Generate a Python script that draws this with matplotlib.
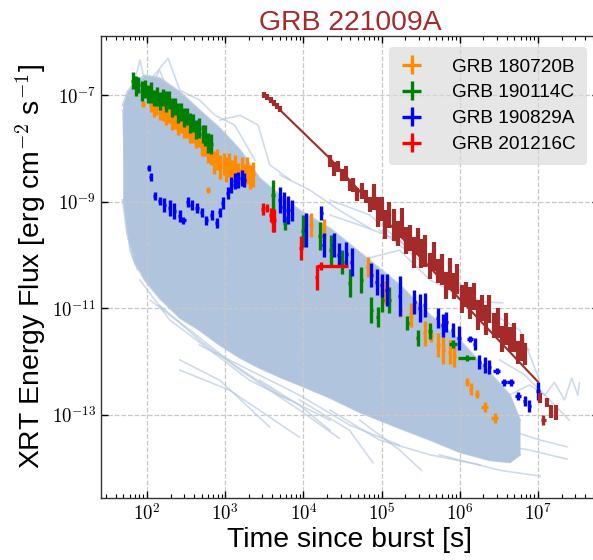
import numpy as np
import matplotlib.pyplot as plt
from matplotlib.ticker import FixedLocator, NullLocator, NullFormatter, FuncFormatter

plt.rcParams['font.family'] = ['Liberation Sans', 'DejaVu Sans']
plt.rcParams['mathtext.fontset'] = 'cm'

# ---- data (log10 of time [s] and flux [erg cm^-2 s^-1]) ----

# envelope of the dense Swift-XRT sample
env_logt = [1.69, 1.75, 1.84, 1.97, 2.16, 2.42, 2.67, 2.93, 3.19, 3.44, 3.70, 3.95,
            4.34, 4.72, 5.23, 5.62, 6.00, 6.38, 6.64, 6.77]
env_hi = [-7.19, -6.94, -6.76, -6.63, -6.68, -6.94, -7.28, -7.62, -8.03, -8.56, -8.88, -9.16,
          -9.50, -9.95, -10.56, -11.13, -11.60, -12.20, -12.63, -13.10]
env_lo = [-8.97, -9.63, -10.13, -10.47, -10.81, -11.18, -11.41, -11.69, -11.93, -12.12, -12.29, -12.44,
          -12.68, -12.95, -13.25, -13.47, -13.70, -13.85, -13.89, -13.75]

# individual light curves sticking out of the band
bg_lines = [
    ([1.78, 1.91, 2.01, 2.16, 2.35, 2.67], [-7.09, -6.34, -7.00, -6.53, -7.19, -7.47]),
    ([2.04, 2.27, 2.42, 2.67, 2.87, 3.12, 3.38], [-6.72, -6.31, -6.91, -7.09, -7.38, -7.56, -8.22]),
    ([2.93, 3.19, 3.42, 3.57, 3.83], [-7.47, -7.38, -7.56, -8.31, -8.59]),
    ([4.34, 4.72, 5.23, 5.62, 6.00, 6.55], [-9.25, -9.44, -9.72, -10.19, -10.85, -10.90]),
    ([4.72, 5.23, 5.62, 6.13, 6.77, 7.02], [-10.10, -9.91, -10.47, -10.85, -11.41, -12.35]),
    ([6.51, 6.89, 7.09, 7.21, 7.34, 7.43, 7.51, 7.53], [-12.72, -12.44, -12.63, -12.39, -12.72, -12.31, -12.63, -12.40]),
    ([6.26, 6.64, 7.02, 7.37], [-13.10, -13.29, -13.47, -13.60]),
    ([2.16, 2.67, 3.19, 3.57, 3.95, 4.46], [-10.94, -11.60, -12.16, -12.54, -12.91, -13.44]),
    ([2.42, 2.93, 3.57], [-11.97, -12.35, -13.23]),
    ([2.42, 3.06, 3.95], [-12.16, -12.54, -13.42]),
    ([3.95, 4.59, 4.89], [-12.72, -13.29, -13.90]),
    ([4.72, 5.23, 5.51], [-13.10, -13.66, -14.04]),
    ([5.74, 6.51, 7.03], [-13.75, -14.04, -14.15]),
    ([6.13, 6.89, 7.37], [-13.47, -13.66, -13.83]),
    ([1.69, 1.72, 1.78, 1.88], [-7.28, -8.59, -9.91, -10.28]),
    ([1.91, 2.29, 2.80, 3.31, 3.82], [-10.47, -11.22, -11.78, -12.35, -12.72]),
    ([2.04, 2.55, 3.12, 3.70, 4.34], [-10.85, -11.41, -12.07, -12.63, -13.10]),
    ([2.67, 3.31, 3.95, 4.59, 5.23], [-11.69, -12.16, -12.63, -13.19, -13.57]),
    ([4.34, 4.97, 5.62, 6.26], [-12.91, -13.47, -13.75, -13.94]),
    ([3.44, 3.95, 4.34], [-12.35, -12.82, -13.29]),
    ([4.34, 4.85, 5.36, 5.87, 6.38], [-8.97, -9.25, -9.91, -10.38, -11.03]),
    ([4.97, 5.49, 6.00, 6.51, 6.89], [-9.53, -10.10, -10.66, -11.41, -11.78]),
    ([3.70, 4.08, 4.46, 4.85], [-8.50, -8.78, -9.16, -9.50]),
    ([6.51, 6.83, 7.15, 7.40], [-11.97, -12.25, -12.72, -13.10]),
]

# GRB 180720B
orange_logt = [1.95, 1.98, 2.05, 2.09, 2.12, 2.16, 2.20, 2.24, 2.28, 2.32, 2.36, 2.40, 2.43, 2.47,
               2.51, 2.55, 2.59, 2.63, 2.67, 2.70, 2.74, 2.78, 2.78, 2.82, 2.86, 2.90, 2.94, 2.98,
               3.01, 3.05, 3.09, 3.13, 3.17, 3.21, 3.24, 3.28, 3.32, 3.36,
               4.10, 4.27, 4.82, 5.04, 5.24, 5.37, 5.55, 5.63, 5.72, 5.79, 5.87, 5.93, 6.09, 6.14, 6.22]
orange_logf = [-7.17, -6.91, -7.18, -7.27, -7.24, -7.34, -7.34, -7.43, -7.40, -7.51, -7.49, -7.59, -7.58, -7.68,
               -7.66, -7.75, -7.73, -7.86, -7.83, -7.98, -7.97, -8.12, -8.78, -8.12, -8.26, -8.21, -8.35, -8.29,
               -8.40, -8.31, -8.42, -8.36, -8.49, -8.40, -8.51, -8.41, -8.54, -8.49,
               -9.44, -9.63, -10.23, -10.70, -11.03, -11.13, -11.47, -11.52, -11.69, -11.78, -11.82, -11.90, -12.38, -12.52, -12.61]
orange_logerr = [0.06, 0.09, 0.13, 0.15, 0.14, 0.12, 0.15, 0.14, 0.13, 0.15, 0.14, 0.16, 0.14, 0.13,
                 0.15, 0.14, 0.16, 0.14, 0.15, 0.16, 0.17, 0.16, 0.06, 0.20, 0.22, 0.19, 0.23, 0.21,
                 0.24, 0.22, 0.20, 0.24, 0.22, 0.23, 0.21, 0.25, 0.22, 0.24,
                 0.22, 0.30, 0.19, 0.22, 0.13, 0.22, 0.24, 0.12, 0.22, 0.26, 0.22, 0.20, 0.08, 0.11, 0.08]
orange_x_logt = [6.32, 6.45]
orange_x_logf = [-12.85, -13.06]
orange_x_logerr = [0.10, 0.10]

# GRB 190114C
green_logt = [1.82, 1.86, 1.89, 1.93, 1.97, 2.01, 2.05, 2.09, 2.13, 2.17, 2.20, 2.24, 2.28, 2.32,
              2.36, 2.40, 2.44, 2.47, 2.51, 2.55, 2.59, 2.63, 2.67, 2.71, 2.74, 2.78, 2.82,
              3.61, 3.76, 3.99, 4.21, 4.35, 4.50, 4.59, 4.74, 4.87, 4.95, 5.01, 5.10, 5.33, 5.46, 5.62]
green_logf = [-6.73, -6.83, -6.81, -6.92, -6.88, -6.98, -6.95, -7.06, -7.03, -7.11, -7.04, -7.12, -7.10, -7.23,
              -7.21, -7.33, -7.32, -7.42, -7.40, -7.53, -7.52, -7.65, -7.62, -7.73, -7.76, -7.90, -7.92,
              -8.88, -9.40, -9.55, -9.65, -9.91, -10.13, -10.53, -10.47, -11.03, -11.17, -10.85, -10.85,
              -11.28, -11.56, -11.43]
green_logerr = [0.16, 0.18, 0.15, 0.19, 0.17, 0.16, 0.19, 0.15, 0.18, 0.17, 0.16, 0.19, 0.17, 0.18,
                0.16, 0.19, 0.17, 0.18, 0.16, 0.19, 0.17, 0.18, 0.19, 0.17, 0.20, 0.18, 0.19,
                0.28, 0.13, 0.30, 0.26, 0.28, 0.22, 0.26, 0.24, 0.24, 0.19, 0.22, 0.24, 0.13, 0.15, 0.15]
green_x_logt = [5.91, 6.09]
green_x_logf = [-11.67, -11.93]
green_x_logerr = [0.08, 0.06]
green_x_logxerr = [0.05, 0.11]

# GRB 190829A
blue_logt = [2.02, 2.05, 2.10, 2.16, 2.22, 2.29, 2.35, 2.42, 2.52, 2.57, 2.64, 2.70, 2.76, 2.83,
             2.89, 2.93, 2.97, 3.03, 3.08, 3.12, 3.16, 3.21, 3.24,
             3.70, 3.75, 3.80, 3.85, 4.03, 4.23, 4.26, 4.39, 4.45, 4.55, 4.62, 4.87, 4.94, 5.00,
             5.07, 5.23, 5.42, 5.49, 5.55, 5.72, 5.78, 5.83, 5.91, 5.99, 6.19, 6.25, 6.32, 6.38,
             6.83, 6.89, 7.00]
blue_logf = [-8.37, -8.54, -8.89, -8.99, -9.06, -9.12, -9.18, -9.27, -9.01, -9.06, -9.12, -9.20, -9.35, -9.25,
             -9.40, -9.20, -9.03, -8.84, -8.69, -8.61, -8.59, -8.56, -8.59,
             -8.97, -9.10, -9.16, -9.16, -9.53, -9.21, -9.81, -9.81, -10.00, -9.98, -10.13, -10.38, -10.51, -10.57,
             -10.66, -10.77, -10.88, -11.00, -10.94, -11.18, -11.32, -11.26, -11.41, -11.56, -11.67, -12.01, -12.07, -12.10,
             -12.74, -12.84, -12.55]
blue_logerr = [0.06, 0.08, 0.08, 0.08, 0.13, 0.15, 0.15, 0.11, 0.09, 0.09, 0.09, 0.09, 0.09, 0.09,
               0.09, 0.09, 0.11, 0.11, 0.15, 0.15, 0.15, 0.15, 0.13,
               0.25, 0.28, 0.26, 0.20, 0.32, 0.13, 0.22, 0.22, 0.22, 0.22, 0.26, 0.22, 0.24, 0.22,
               0.30, 0.37, 0.22, 0.26, 0.22, 0.19, 0.22, 0.19, 0.13, 0.22, 0.12, 0.13, 0.15, 0.13,
               0.09, 0.11, 0.17]
blue_x_logt = [2.46, 6.13, 6.47, 6.57, 6.65, 6.74]
blue_x_logf = [-9.35, -11.58, -12.18, -12.39, -12.39, -12.65]
blue_x_logerr = [0.06, 0.06, 0.06, 0.06, 0.06, 0.08]

# GRB 201216C
red_logt = [3.48, 3.53, 3.58, 3.61, 3.63, 3.97, 4.17]
red_logf = [-9.14, -9.12, -9.25, -9.38, -9.35, -9.87, -10.42]
red_logerr = [0.11, 0.08, 0.13, 0.19, 0.22, 0.22, 0.23]
red_x_logt = [4.22, 4.37]
red_x_logf = [-10.21, -10.21]
red_x_logerr = [0.08, 0.01]
red_x_logxerr = [0.03, 0.20]

# GRB 221009A
brown_logt = [3.50, 3.54, 3.58, 3.62, 3.66, 3.70,
              4.34, 4.39, 4.44, 4.49, 4.54, 4.59, 4.64, 4.69, 4.75, 4.80, 4.85, 4.90, 4.95, 5.00,
              5.05, 5.10, 5.16, 5.21, 5.26, 5.31, 5.36, 5.41, 5.46, 5.51, 5.56, 5.62, 5.67, 5.72,
              5.77, 5.82, 5.87, 5.92, 5.97, 6.03, 6.08, 6.13, 6.18, 6.23, 6.28, 6.33, 6.38, 6.44,
              6.49, 6.54, 6.59, 6.64, 6.69, 6.74, 6.79, 6.84,
              7.02, 7.12, 7.17, 7.23]
brown_logf = [-7.00, -7.04, -7.09, -7.15, -7.21, -7.26,
              -8.23, -8.38, -8.34, -8.50, -8.47, -8.69, -8.69, -8.86, -8.80, -8.90, -9.05, -8.91, -9.19, -9.14,
              -9.43, -9.25, -9.43, -9.60, -9.40, -9.73, -9.68, -9.96, -9.75, -9.97, -9.93, -10.21, -10.03, -10.30,
              -10.28, -10.57, -10.36, -10.58, -10.45, -10.82, -10.74, -10.90, -10.78, -11.12, -11.00, -11.22, -11.02, -11.32,
              -11.28, -11.58, -11.39, -11.59, -11.55, -11.83, -11.74, -11.86,
              -12.68, -12.77, -12.93, -12.96]
brown_logerr = [0.05, 0.06, 0.05, 0.06, 0.06, 0.05,
                0.11, 0.13, 0.10, 0.12, 0.14, 0.11, 0.13, 0.12, 0.15, 0.12, 0.14, 0.24, 0.28, 0.22,
                0.27, 0.25, 0.30, 0.23, 0.28, 0.26, 0.24, 0.29, 0.25, 0.27, 0.30, 0.24, 0.28, 0.23,
                0.29, 0.25, 0.30, 0.24, 0.28, 0.26, 0.23, 0.30, 0.25, 0.28, 0.24, 0.29, 0.26, 0.23,
                0.28, 0.25, 0.30, 0.24, 0.27, 0.22, 0.25, 0.20,
                0.09, 0.08, 0.12, 0.14]
brown_x_logt = [7.07]
brown_x_logf = [-13.10]
brown_x_logerr = [0.09]
brown_model_logt = [3.49, 4.34, 5.30, 7.00]
brown_model_logf = [-6.98, -8.19, -9.74, -12.38]

x_major = [1e2, 1e3, 1e4, 1e5, 1e6, 1e7]
y_major = [1e-13, 1e-11, 1e-9, 1e-7]


def draw(ax, lt, lf, le, xe, color, label=None, lw=2.4):
    t = 10 ** np.asarray(lt, dtype=float)
    f = 10 ** np.asarray(lf, dtype=float)
    le = np.asarray(le, dtype=float)
    xe = np.asarray(xe, dtype=float)
    yerr = [f - f * 10 ** -le, f * 10 ** le - f]
    xerr = [t - t * 10 ** -xe, t * 10 ** xe - t]
    ax.errorbar(t, f, yerr=yerr, xerr=xerr, fmt='none', ecolor=color,
                elinewidth=lw, capsize=0, label=label, zorder=3)


fig = plt.figure(figsize=(5.93, 5.6), dpi=100)
ax = fig.add_axes([0.1703, 0.1107, 0.8395, 0.8255])
ax.set_xscale('log')
ax.set_yscale('log')

# background sample
ax.fill_between(10 ** np.array(env_logt), 10 ** np.array(env_lo), 10 ** np.array(env_hi),
                color='lightsteelblue', lw=0, zorder=1)
ax.plot(10 ** np.array(env_logt), 10 ** np.array(env_hi), color='lightsteelblue', lw=1.5, alpha=0.7, zorder=1.1)
ax.plot(10 ** np.array(env_logt), 10 ** np.array(env_lo), color='lightsteelblue', lw=1.5, alpha=0.7, zorder=1.1)
for lt, lf in bg_lines:
    ax.plot(10 ** np.array(lt), 10 ** np.array(lf), color='lightsteelblue', lw=1.2, alpha=0.6, zorder=1.1)

draw(ax, orange_logt, orange_logf, orange_logerr, 0.022, 'darkorange', 'GRB 180720B')
draw(ax, orange_x_logt, orange_x_logf, orange_x_logerr, 0.045, 'darkorange')
draw(ax, green_logt, green_logf, green_logerr, 0.022, 'green', 'GRB 190114C')
draw(ax, green_x_logt, green_x_logf, green_x_logerr, green_x_logxerr, 'green')
draw(ax, blue_logt, blue_logf, blue_logerr, 0.02, 'blue', 'GRB 190829A')
draw(ax, blue_x_logt, blue_x_logf, blue_x_logerr, 0.04, 'blue')
draw(ax, red_logt, red_logf, red_logerr, 0.02, 'red', 'GRB 201216C')
draw(ax, red_x_logt, red_x_logf, red_x_logerr, red_x_logxerr, 'red')
draw(ax, brown_logt, brown_logf, brown_logerr, 0.015, 'brown', lw=3.0)
draw(ax, brown_x_logt, brown_x_logf, brown_x_logerr, 0.03, 'brown')
ax.plot(10 ** np.array(brown_model_logt), 10 ** np.array(brown_model_logf), color='brown', lw=1.5, zorder=3)

ax.set_xlim(25.8, 6e7)
ax.set_ylim(2.75e-15, 1.3e-6)

x_minor = [k * d for d in [10, 1e2, 1e3, 1e4, 1e5, 1e6, 1e7] for k in range(2, 10) if 25.8 < k * d < 6e7]
dec = FuncFormatter(lambda v, p: r'$10^{%d}$' % int(round(np.log10(v))))
ax.xaxis.set_major_locator(FixedLocator(x_major))
ax.xaxis.set_minor_locator(FixedLocator(x_minor))
ax.xaxis.set_major_formatter(dec)
ax.xaxis.set_minor_formatter(NullFormatter())
ax.yaxis.set_major_locator(FixedLocator(y_major))
ax.yaxis.set_minor_locator(NullLocator())
ax.yaxis.set_major_formatter(dec)

ax.tick_params(which='both', direction='in', top=True, right=True, labelsize=13.5)
ax.tick_params(which='major', length=5, width=1)
ax.tick_params(which='minor', length=3, width=0.8)
ax.set_axisbelow('line')
ax.grid(True, which='major', ls='--', color='#c8c8c8', lw=0.9)
for s in ax.spines.values():
    s.set_linewidth(1.0)
    s.set_color('#333333')

ax.set_title('GRB 221009A', color='brown', fontsize=20.4, pad=3)
ax.set_xlabel('Time since burst [s]', fontsize=20.4, labelpad=2)
ax.set_ylabel(r'XRT Energy Flux [erg cm$^{-2}$ s$^{-1}$]', fontsize=20.4, labelpad=3)

ax.legend(loc='upper right', bbox_to_anchor=(0.976, 0.976), borderaxespad=0, fontsize=13.7,
          handlelength=1.2, handletextpad=1.5, labelspacing=0.45, borderpad=0.6,
          facecolor='0.85', edgecolor='none', framealpha=0.65, fancybox=True)

fig.savefig('out.png', dpi=100)
